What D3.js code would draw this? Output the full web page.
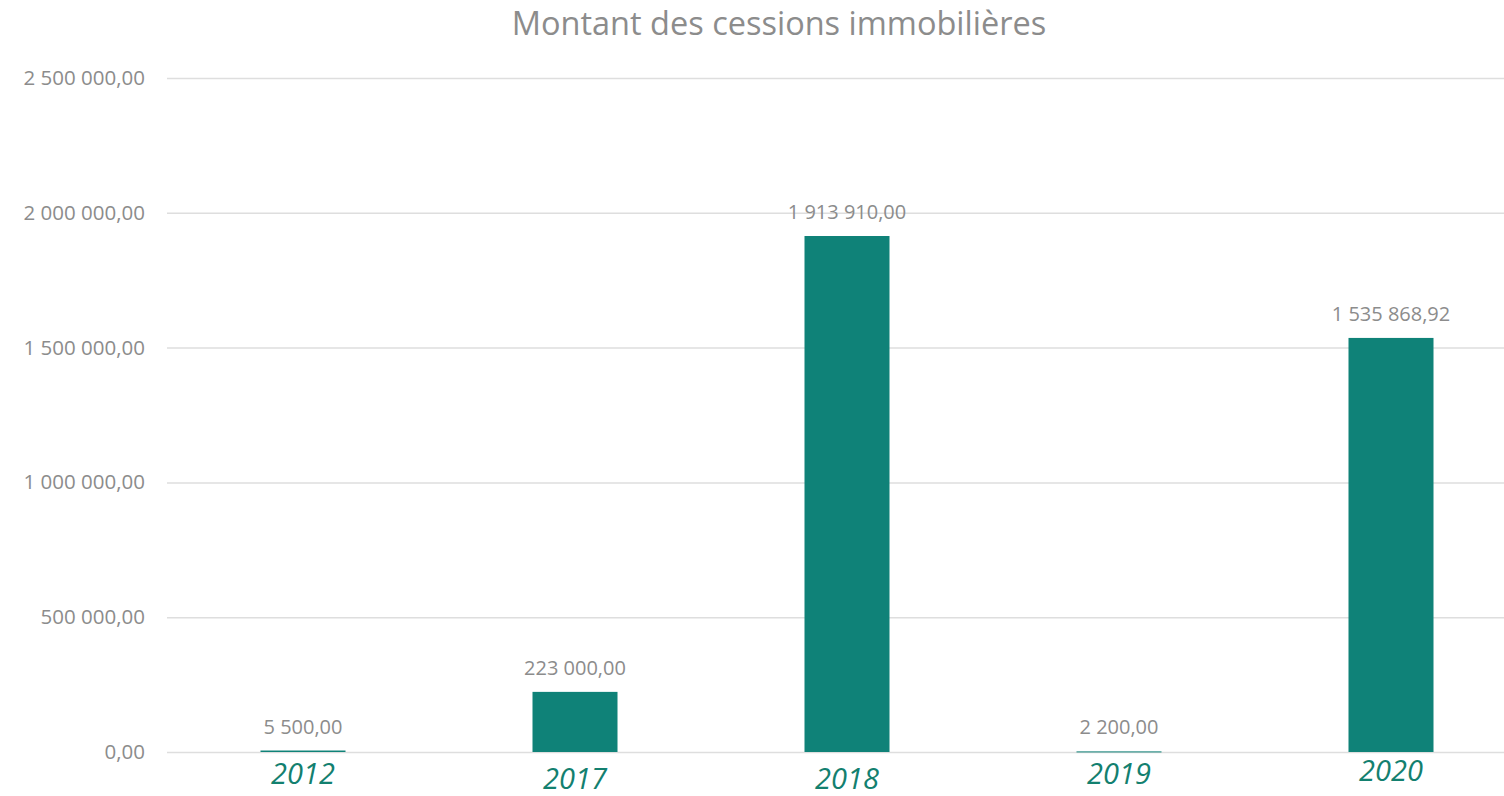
<!DOCTYPE html>
<html>
<head>
<meta charset="utf-8">
<script src="https://cdn.jsdelivr.net/npm/d3@7"></script>
<style>
  body { margin: 0; background: #fff; }
  text { font-family: "Open Sans", sans-serif; }
</style>
</head>
<body>
<div id="chart"></div>
<script>
//chart data
var years = ["2012", "2017", "2018", "2019", "2020"];
var amounts = [5500, 223000, 1913910, 2200, 1535868.92];
var yTicks = [0, 500000, 1000000, 1500000, 2000000, 2500000];
var title = "Montant des cessions immobilières";

//small vertical shift of each year label, as in the original
var labelShift = [0, 5, 5, 0, -3];

var W = 1504, H = 796;
var margin = {top: 78, right: -23, bottom: 44, left: 167};

var svg = d3.select("#chart").append("svg")
  .attr("width", W).attr("height", H);

//french number format: space thousands, comma decimal
var fr = d3.formatLocale({decimal: ",", thousands: "\u00a0", grouping: [3], currency: ["", " €"]});
var fmt = fr.format(",.2f");

var x = d3.scaleBand()
  .domain(years)
  .range([margin.left, W - margin.right])
  .paddingInner(0.6875)
  .paddingOuter(0.34375);

var y = d3.scaleLinear()
  .domain([0, 2500000])
  .range([H - margin.bottom, margin.top]);

//title
svg.append("text")
  .attr("x", 779).attr("y", 35)
  .attr("text-anchor", "middle")
  .style("font-size", "32.5px")
  .style("fill", "#8c8c8c")
  .text(title);

//gridlines + y labels
var yAxis = d3.axisLeft(y)
  .tickValues(yTicks)
  .tickSize(-(W - margin.left))
  .tickPadding(22)
  .tickFormat(fmt);

var gy = svg.append("g")
  .attr("transform", "translate(" + margin.left + ",0)")
  .call(yAxis);
gy.select(".domain").remove();
gy.selectAll(".tick line")
  .attr("stroke", "#dedede")
  .attr("stroke-width", 1.5);
gy.selectAll(".tick text")
  .style("font-size", "20.5px")
  .style("fill", "#8c8c8c")
  .style("font-family", "'Open Sans', sans-serif");

//bars
svg.selectAll(".bar")
  .data(amounts)
  .enter().append("rect")
  .attr("class", "bar")
  .attr("x", function(d, i) { return x(years[i]); })
  .attr("width", x.bandwidth())
  .attr("y", function(d) { return y(d); })
  .attr("height", function(d) { return Math.max(1, y(0) - y(d)); })
  .attr("fill", "#0f8278");

//value labels
svg.selectAll(".val")
  .data(amounts)
  .enter().append("text")
  .attr("class", "val")
  .attr("x", function(d, i) { return x(years[i]) + x.bandwidth() / 2; })
  .attr("y", function(d) { return y(d) - 17; })
  .attr("text-anchor", "middle")
  .style("font-size", "20px")
  .style("fill", "#8c8c8c")
  .text(function(d) { return fmt(d); });

//year labels
svg.selectAll(".yr")
  .data(years)
  .enter().append("text")
  .attr("class", "yr")
  .attr("x", function(d) { return x(d) + x.bandwidth() / 2; })
  .attr("y", function(d, i) { return y(0) + 32 + labelShift[i]; })
  .attr("text-anchor", "middle")
  .style("font-size", "29px")
  .style("font-style", "italic")
  .style("fill", "#13806f")
  .text(function(d) { return d; });
</script>
</body>
</html>
